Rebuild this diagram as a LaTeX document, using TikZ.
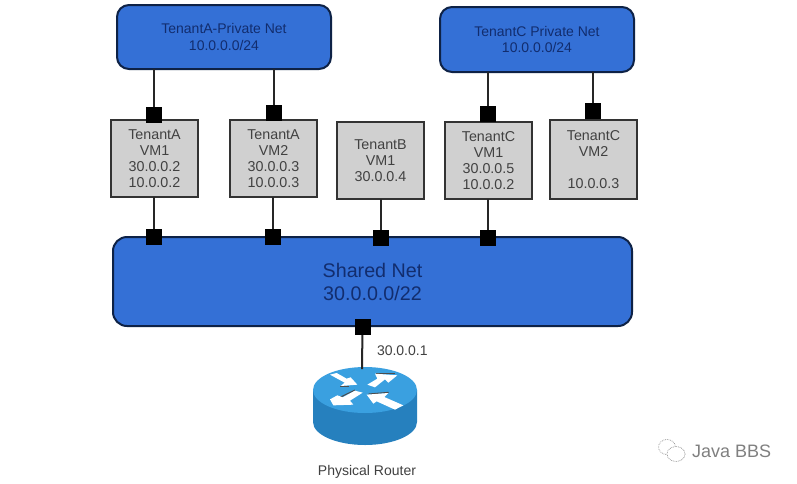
\documentclass[tikz,border=0pt]{standalone}
\usepackage{fontspec}
\setmainfont{Liberation Sans}
\definecolor{netblue}{RGB}{52,112,214}
\definecolor{netedge}{RGB}{14,34,70}
\definecolor{vmgrey}{RGB}{208,208,208}
\definecolor{txt}{RGB}{65,65,65}
\definecolor{nettxt}{RGB}{18,45,110}
\definecolor{rtop}{RGB}{58,160,224}
\definecolor{rside}{RGB}{38,128,190}
\tikzset{
  every node/.style={inner sep=0pt,outer sep=0pt},
  net/.style={draw=netedge,line width=2pt,fill=netblue,rounded corners=12pt,align=center,text=nettxt,font=\fontsize{14}{16.2}\selectfont},
  vm/.style={draw=black!80,line width=2pt,fill=vmgrey,align=center,text=txt,font=\fontsize{14.3}{16.2}\selectfont},
  port/.style={fill=black,minimum width=16pt,minimum height=16pt},
  link/.style={draw=black!85,line width=2pt},
  rarrow/.style={fill=white,draw=none},
  rshade/.style={draw=black!70,line width=1pt},
  lbl/.style={text=txt,font=\fontsize{14}{16}\selectfont}
}
\begin{document}
\begin{tikzpicture}[x=1pt,y=-1pt]
\useasboundingbox (0,0) rectangle (797,483);
\fill[white] (0,0) rectangle (797,483);
% networks
\node[net,minimum width=214pt,minimum height=64pt] (neta) at (224,37) {TenantA-Private Net\\10.0.0.0/24};
\node[net,minimum width=194pt,minimum height=65pt] (netc) at (537,39.5) {TenantC Private Net\\10.0.0.0/24};
\node[net,minimum width=519pt,minimum height=89pt,rounded corners=14pt,font=\fontsize{19.7}{23}\selectfont] (shared) at (372.5,281.5) {Shared Net\\30.0.0.0/22};
% VMs
\node[vm,minimum width=87pt,minimum height=77pt] (a1) at (154.5,158.5) {TenantA\\VM1\\30.0.0.2\\10.0.0.2};
\node[vm,minimum width=87pt,minimum height=77pt] (a2) at (273.5,158.5) {TenantA\\VM2\\30.0.0.3\\10.0.0.3};
\node[vm,minimum width=87pt,minimum height=77pt] (b1) at (380.5,160.5) {TenantB\\VM1\\30.0.0.4};
\node[vm,minimum width=87pt,minimum height=77pt] (c1) at (488.5,160.5) {TenantC\\VM1\\30.0.0.5\\10.0.0.2};
\node[vm,minimum width=87pt,minimum height=79pt] (c2) at (593.5,159.5) {TenantC\\VM2\\[16.2pt]10.0.0.3};
% ports
\node[port] (pa1t) at (154,115) {};
\node[port] (pa2t) at (273.5,113) {};
\node[port] (pc1t) at (488,113.5) {};
\node[port] (pc2t) at (592.5,111) {};
\node[port] (pa1b) at (154,237) {};
\node[port] (pa2b) at (273,237) {};
\node[port] (pb1b) at (380.5,238) {};
\node[port] (pc1b) at (488,238) {};
\node[port] (pr) at (362.5,327) {};
% links
\draw[link] (pa1t) -- (pa1t |- neta.south);
\draw[link] (pa2t) -- (pa2t |- neta.south);
\draw[link] (pc1t) -- (pc1t |- netc.south);
\draw[link] (pc2t) -- (pc2t |- netc.south);
\draw[link] (pa1b) -- (pa1b |- a1.south);
\draw[link] (pa2b) -- (pa2b |- a2.south);
\draw[link] (pb1b) -- (pb1b |- b1.south);
\draw[link] (pc1b) -- (pc1b |- c1.south);
% router
\coordinate (rc) at (365,390);
\fill[rside] (313,390) -- (313,422) .. controls (313,435) and (337,445) .. (365,445) .. controls (393,445) and (417,435) .. (417,422) -- (417,390) -- cycle;
\fill[rtop] (rc) ellipse[x radius=52,y radius=23];
\coordinate (rtopc) at (362,369);
\draw[link] (pr) -- (rtopc);
% arrows on router top
\begin{scope}[shift={(320,362)},x=0.3333pt,y=-0.3333pt]
\draw[rshade] (60,73) -- (88,73);
\draw[rshade] (168,33) -- (226,33);
\draw[rshade] (62,105) -- (105,84);
\draw[rshade] (146,96) -- (206,91);
\fill[rarrow] (30,38) -- (50,33) -- (80,50) -- (92,46) -- (112,68) -- (62,72) -- (74,62) -- cycle;
\fill[rarrow] (142,68) -- (172,50) -- (165,35) -- (232,40) -- (205,62) -- (195,52) -- (165,76) -- cycle;
\fill[rarrow] (30,112) -- (52,100) -- (68,106) -- (105,86) -- (128,92) -- (90,116) -- (100,128) -- (40,130) -- cycle;
\fill[rarrow] (140,98) -- (205,93) -- (193,105) -- (250,130) -- (225,143) -- (170,118) -- (160,125) -- cycle;
\end{scope}
% router labels
\node[lbl,anchor=west] (addr) at (377,351) {30.0.0.1};
\node[lbl,text=black!75] (rname) at (367,472) {Physical Router};
% watermark
\node[text=black!50,font=\fontsize{18}{20}\selectfont,anchor=west] (mark) at (692,451) {Java BBS};
\draw[black!45,densely dotted,line width=.7pt] (667,447) ellipse[x radius=8.5,y radius=7.5];
\draw[black!50,densely dotted,line width=.7pt,fill=white] (676,454) ellipse[x radius=9,y radius=7.5];
\end{tikzpicture}
\end{document}
